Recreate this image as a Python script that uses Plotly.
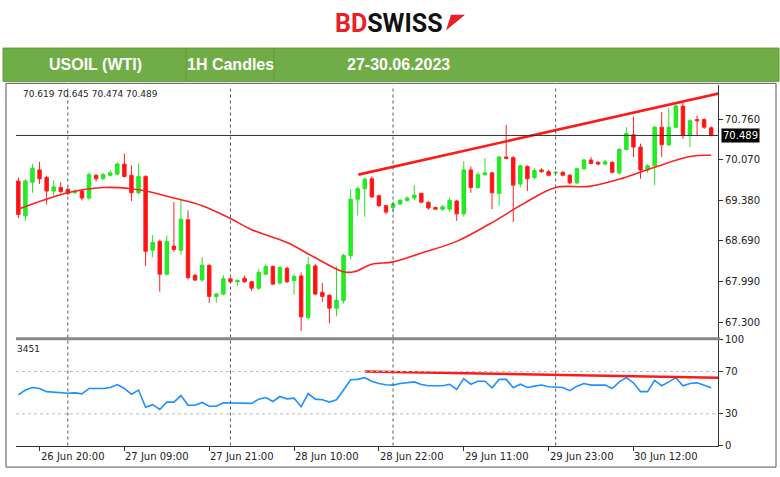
import plotly.graph_objects as go

W, H = 780, 477
opens = [69.71,69.12,69.69,69.90,69.77,69.54,69.60,69.57,69.51,69.54,69.42,69.81,69.75,69.81,69.83,70.00,69.81,69.51,69.79,68.53,
         68.68,68.12,68.60,68.53,69.05,68.10,68.02,68.27,67.74,67.78,68.04,67.99,68.05,67.99,67.88,68.12,68.25,67.97,68.22,68.01,
         68.09,67.38,68.26,67.81,67.76,67.54,67.67,68.44,69.40,69.58,69.75,69.46,69.29,69.26,69.32,69.38,69.42,69.50,69.35,69.26,
         69.23,69.23,69.37,69.15,69.90,69.60,69.82,69.85,69.50,70.12,70.11,69.66,69.96,69.77,69.90,69.87,69.85,69.86,69.81,69.68,
         69.92,70.07,70.03,70.00,70.03,69.85,70.25,70.50,70.29,69.90,69.97,70.63,70.33,70.63,70.99,70.49,70.76,70.76,70.619]
highs = [69.77,69.74,70.00,70.04,69.80,69.72,69.69,69.60,69.57,69.56,69.86,69.83,69.85,69.90,70.03,70.18,69.98,70.01,69.81,68.79,
         68.71,68.78,69.35,69.40,69.21,68.13,68.41,68.29,67.80,68.10,68.06,68.03,68.10,68.01,68.21,68.29,68.27,68.26,68.25,68.12,
         68.15,68.42,68.30,67.97,67.78,68.25,68.47,69.57,69.62,69.77,69.79,69.48,69.30,69.36,69.41,69.45,69.64,69.51,69.36,69.27,
         69.30,69.43,69.39,70.05,69.96,69.86,70.10,69.87,70.14,70.67,70.14,69.99,69.98,69.93,69.93,69.90,69.88,69.88,69.83,69.94,
         70.09,70.12,70.05,70.07,70.05,70.27,70.63,70.81,70.35,70.00,70.65,70.89,70.96,71.02,71.05,70.76,70.83,70.78,70.645]
lows = [69.08,69.03,69.51,69.66,69.31,69.46,69.50,69.47,69.49,69.38,69.38,69.70,69.73,69.79,69.81,69.77,69.37,69.48,68.26,68.41,
        67.82,68.10,68.50,68.45,68.03,68.00,67.99,67.63,67.63,67.76,67.96,67.92,67.97,67.83,67.85,68.10,67.93,67.94,67.97,67.77,
        67.15,67.35,67.76,67.65,67.28,67.40,67.62,68.37,69.12,69.10,69.42,69.27,69.14,69.17,69.30,69.36,69.38,69.33,69.22,69.22,
        69.20,69.19,69.03,69.10,69.51,69.58,69.80,69.23,69.29,70.08,69.01,69.60,69.54,69.74,69.85,69.79,69.83,69.79,69.66,69.66,
        69.90,70.00,69.98,69.98,69.84,69.82,70.23,70.12,69.75,69.85,69.64,70.12,70.31,70.61,70.43,70.29,70.49,70.60,70.474]
closes = [69.14,69.71,69.93,69.75,69.54,69.61,69.53,69.50,69.54,69.42,69.82,69.75,69.82,69.85,70.00,69.79,69.51,69.79,68.51,68.66,
          68.12,68.68,68.54,69.06,68.06,68.02,68.27,67.74,67.78,68.04,67.99,68.01,67.99,67.88,68.15,68.25,67.95,68.23,67.99,68.08,
          67.39,68.28,67.78,67.74,67.54,67.67,68.44,69.40,69.58,69.74,69.44,69.29,69.18,69.32,69.38,69.42,69.47,69.35,69.25,69.23,
          69.27,69.38,69.15,69.90,69.60,69.82,69.85,69.51,70.12,70.10,69.64,69.97,69.75,69.89,69.87,69.81,69.86,69.81,69.68,69.92,
          70.07,70.01,70.00,70.04,69.86,70.25,70.52,70.29,69.90,69.97,70.63,70.33,70.63,70.99,70.49,70.74,70.74,70.63,70.489]
ma_idx = [0,7,12,16,18,22,26,30,33,38,42,46,47.5,50,53,57,62,66.7,71.4,76,80.8,85.5,90.3,95,98]
ma_val = [69.23,69.51,69.60,69.58,69.54,69.42,69.29,69.07,68.88,68.66,68.40,68.16,68.16,68.29,68.33,68.48,68.68,68.98,69.32,69.60,69.62,69.76,69.96,70.13,70.15]
rsi = [47.9,52.5,54.9,54.0,51.0,50.4,50.4,49.5,49.8,48.9,54.0,54.0,54.0,54.9,57.7,54.0,48.6,52.5,36.2,38.7,
       34.1,41.1,41.1,47.3,38.1,38.1,40.8,37.2,37.2,40.5,40.5,40.5,39.9,39.9,43.9,45.4,41.7,46.4,44.2,44.8,
       36.8,49.2,43.9,43.3,41.1,43.3,52.5,62.3,62.6,64.2,60.8,58.7,57.5,57.2,58.7,59.3,60.2,57.8,56.6,56.6,
       56.6,58.0,53.1,63.3,58.0,60.8,60.8,54.6,62.6,62.6,54.6,58.0,54.9,56.2,57.2,55.6,55.6,54.9,51.9,56.2,
       58.7,57.2,57.2,57.2,54.0,60.2,64.2,59.3,51.0,51.0,61.7,56.6,60.2,64.2,56.6,58.7,59.3,57.2,54.6]
trend_x = [48.1, 99.2]
trend_y = [69.82, 71.21]
rsi_trend_x = [49, 99]
rsi_trend_y = [70.0, 64.2]
price_ticks = [67.300, 67.990, 68.690, 69.380, 70.070, 70.760]
rsi_ticks = [0, 30, 70, 100]
time_tick_idx = [3, 15, 27, 39, 51, 63, 75, 87]
time_labels = ["26 Jun 20:00", "27 Jun 09:00", "27 Jun 21:00", "28 Jun 10:00",
               "28 Jun 22:00", "29 Jun 11:00", "29 Jun 23:00", "30 Jun 12:00"]
day_sep = [7, 30, 53, 76]
last_price = 70.489

x = list(range(len(opens)))
def py(p):
    return 1 - p / H
def px(p):
    return p / W

fig = go.Figure()
fig.add_trace(go.Candlestick(x=x, open=opens, high=highs, low=lows, close=closes,
    increasing=dict(line=dict(color="#22e622", width=1), fillcolor="#22ee22"),
    decreasing=dict(line=dict(color="#ff2020", width=1), fillcolor="#ff1010"),
    whiskerwidth=0, xaxis="x", yaxis="y", showlegend=False))
fig.add_trace(go.Scatter(x=ma_idx, y=ma_val, mode="lines", line=dict(color="#ff2020", width=1.6, shape="spline"),
                         xaxis="x", yaxis="y", showlegend=False, hoverinfo="skip"))
fig.add_trace(go.Scatter(x=trend_x, y=trend_y, mode="lines", line=dict(color="#ff1a1a", width=2.6),
                         xaxis="x", yaxis="y", showlegend=False))
fig.add_trace(go.Scatter(x=x, y=rsi, mode="lines", line=dict(color="#1e90ff", width=1.6),
                         xaxis="x2", yaxis="y2", showlegend=False))
fig.add_trace(go.Scatter(x=rsi_trend_x, y=rsi_trend_y, mode="lines", line=dict(color="#ff1a1a", width=2.6),
                         xaxis="x2", yaxis="y2", showlegend=False))

xr = [-0.33, 98.96]
xd = [px(16), px(718)]
axfont = dict(family="DejaVu Sans", size=10, color="#222")
fig.update_layout(
    width=W, height=H, margin=dict(l=0, r=0, t=0, b=0), autosize=False,
    paper_bgcolor="white", plot_bgcolor="white",
    xaxis=dict(domain=xd, range=xr, showticklabels=False, showgrid=False, zeroline=False,
               rangeslider=dict(visible=False), anchor="y", showline=False),
    yaxis=dict(domain=[py(340), py(82)], range=[67.032, 71.346], side="right", anchor="x",
               tickvals=price_ticks, ticktext=[f"{v:.3f}" for v in price_ticks], ticks="outside",
               ticklen=4, tickcolor="#333", showgrid=False, zeroline=False, tickfont=axfont,
               showline=True, linecolor="#333", linewidth=1),
    xaxis2=dict(domain=xd, range=xr, anchor="y2", tickvals=time_tick_idx, showticklabels=False,
                ticks="outside", ticklen=4, tickcolor="#333", showgrid=False, zeroline=False,
                showline=True, linecolor="#333", linewidth=1),
    yaxis2=dict(domain=[py(450), py(342)], range=[0, 100], side="right", anchor="x2",
                tickvals=rsi_ticks, ticks="outside", ticklen=4, tickcolor="#333", showgrid=False,
                zeroline=False, tickfont=axfont, showline=True, linecolor="#333", linewidth=1),
)

shapes = []
shapes.append(dict(type="rect", xref="paper", yref="paper", x0=px(6), x1=px(776), y0=py(472), y1=py(80),
                   line=dict(color="#555", width=1)))
shapes.append(dict(type="rect", xref="paper", yref="paper", x0=px(3), x1=px(779), y0=py(78), y1=py(44),
                   fillcolor="#70ad47", line=dict(color="#5e9a3a", width=1)))
for dx in [186, 274]:
    shapes.append(dict(type="line", xref="paper", yref="paper", x0=px(dx), x1=px(dx), y0=py(78), y1=py(44),
                       line=dict(color="#5e9a3a", width=1)))
shapes.append(dict(type="line", xref="paper", yref="paper", x0=px(16), x1=px(720), y0=py(341), y1=py(341),
                   line=dict(color="#888", width=3)))
for d in day_sep:
    shapes.append(dict(type="line", xref="x", yref="paper", x0=d, x1=d, y0=py(450), y1=py(82),
                       line=dict(color="#555", width=1, dash="dot")))
shapes.append(dict(type="line", xref="paper", yref="y", x0=px(16), x1=px(718), y0=last_price, y1=last_price,
                   line=dict(color="#333", width=1)))
for lv in [30, 70]:
    shapes.append(dict(type="line", xref="paper", yref="y2", x0=px(16), x1=px(718), y0=lv, y1=lv,
                       line=dict(color="#bbb", width=1, dash="dot")))
shapes.append(dict(type="path", xref="paper", yref="paper",
                   path=f"M {px(451)},{py(10)} L {px(465)},{py(10)} L {px(446)},{py(26)} Z",
                   fillcolor="#e8202a", line=dict(width=0)))
fig.update_layout(shapes=shapes)

ann = []
ann.append(dict(xref="paper", yref="paper", x=px(389), y=py(19), showarrow=False, xanchor="center", yanchor="middle",
                text="<b><span style='color:#e8202a'>BD</span><span style='color:#111'>SWISS</span></b>",
                font=dict(family="Roboto", size=25)))
for t, cx in [("USOIL (WTI)", 95), ("1H Candles", 230), ("27-30.06.2023", 398)]:
    ann.append(dict(xref="paper", yref="paper", x=px(cx), y=py(61), showarrow=False, text=f"<b>{t}</b>",
                    xanchor="center", yanchor="middle",
                    font=dict(family="Liberation Sans Narrow, Liberation Sans", size=16, color="white")))
ann.append(dict(xref="paper", yref="paper", x=px(21), y=py(91), showarrow=False, xanchor="left", yanchor="middle",
                text="70.619 70.645 70.474 70.489", font=dict(family="DejaVu Sans", size=9, color="#222")))
ann.append(dict(xref="paper", yref="paper", x=px(15), y=py(351), showarrow=False, xanchor="left", yanchor="middle",
                text="3451", font=dict(family="DejaVu Sans", size=9, color="#222")))
for i, t in zip(time_tick_idx, time_labels):
    ann.append(dict(xref="x2", yref="paper", x=i, y=py(461), showarrow=False, xanchor="left", yanchor="middle", xshift=-1,
                    text=t, font=dict(family="DejaVu Sans", size=10, color="#222")))
ann.append(dict(xref="paper", yref="y", x=px(721), y=last_price, showarrow=False, xanchor="left", yanchor="middle",
                text="70.489", bgcolor="black", font=dict(family="DejaVu Sans", size=10, color="white"),
                borderpad=1))
fig.update_layout(annotations=ann)

fig.write_html("out.html", config={"responsive": False, "displayModeBar": False},
               post_script="document.body.style.margin='0';document.body.style.overflow='hidden';")
